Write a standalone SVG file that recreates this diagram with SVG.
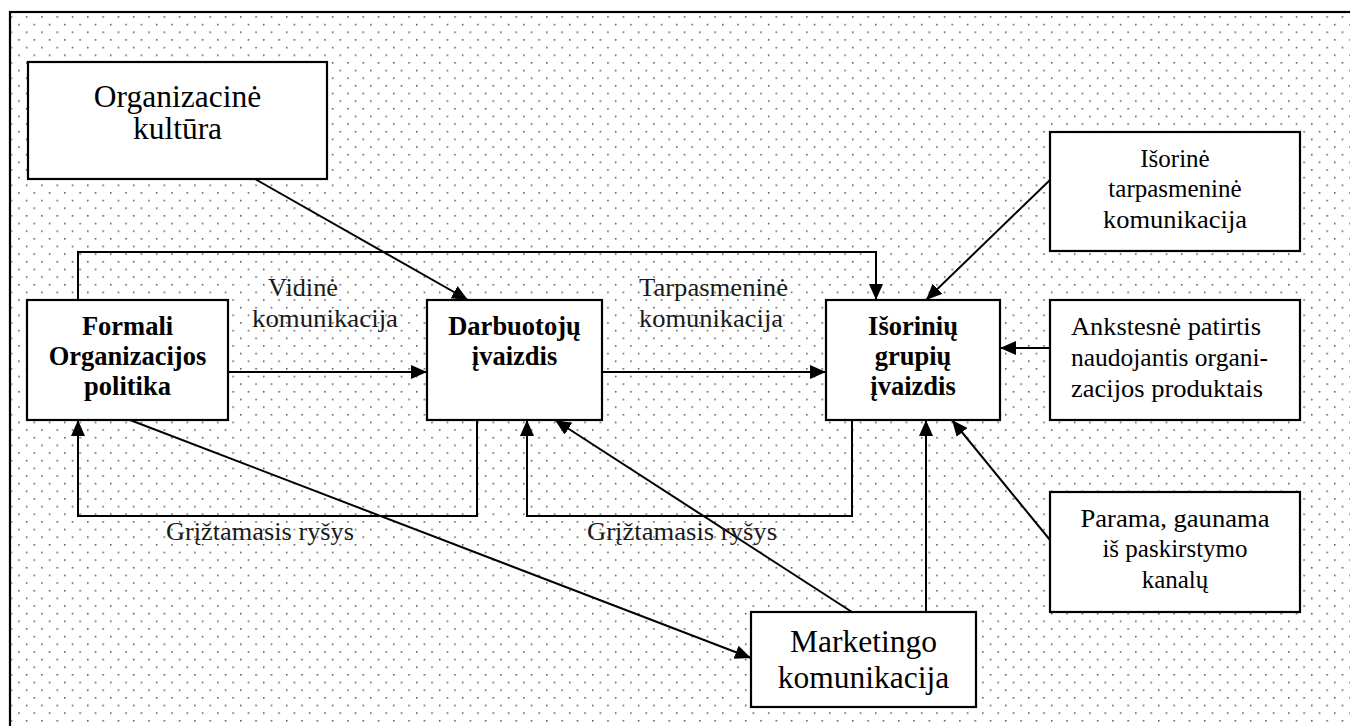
<svg xmlns="http://www.w3.org/2000/svg" width="1350" height="726" viewBox="0 0 1350 726">
<defs>
<pattern id="dots" patternUnits="userSpaceOnUse" x="18.2" y="605.2" width="15.3" height="15.3">
<circle cx="0.8" cy="0.8" r="0.8" fill="#333"/>
<circle cx="8.45" cy="8.45" r="0.8" fill="#333"/>
</pattern>
<marker id="arr" markerUnits="userSpaceOnUse" markerWidth="18" markerHeight="16" refX="16" refY="7" orient="auto">
<path d="M0,0 L16,7 L0,14 z" fill="#000"/>
</marker>
</defs>
<style>
.box{fill:#fff;stroke:#000;stroke-width:2.2}
.ln{fill:none;stroke:#000;stroke-width:2}
.b{font-weight:bold;font-size:26.5px;text-anchor:middle}
.n{font-size:25px}
.lab{font-size:25px;fill:#1a1a1a}
</style>
<rect x="10" y="12" width="1400" height="800" fill="#fff"/>
<rect x="10" y="12" width="1400" height="800" fill="url(#dots)" stroke="#000" stroke-width="2.2"/>

<g id="connectors">
<path class="ln" d="M78,300 V252 H876 V300" marker-end="url(#arr)"/>
<line class="ln" x1="228" y1="372" x2="427" y2="372" marker-end="url(#arr)"/>
<line class="ln" x1="602" y1="372" x2="826" y2="372" marker-end="url(#arr)"/>
<line class="ln" x1="255" y1="179" x2="468" y2="300" marker-end="url(#arr)"/>
<line class="ln" x1="1050" y1="180" x2="926" y2="300" marker-end="url(#arr)"/>
<line class="ln" x1="1050" y1="348" x2="1000" y2="348" marker-end="url(#arr)"/>
<path class="ln" d="M477,420 V516 H78 V420" marker-end="url(#arr)"/>
<path class="ln" d="M852,420 V516 H527 V420" marker-end="url(#arr)"/>
<line class="ln" x1="130" y1="420" x2="751" y2="658" marker-end="url(#arr)"/>
<line class="ln" x1="852" y1="612" x2="555" y2="420" marker-end="url(#arr)"/>
<line class="ln" x1="926" y1="612" x2="926" y2="420" marker-end="url(#arr)"/>
<line class="ln" x1="1050" y1="540" x2="952" y2="420" marker-end="url(#arr)"/>
<g font-family="Times New Roman, Tinos, Liberation Serif, Noto Serif, DejaVu Serif, serif">
<text class="lab" x="268" y="296" textLength="70" lengthAdjust="spacingAndGlyphs">Vidinė</text>
<text class="lab" x="252" y="327" textLength="146" lengthAdjust="spacingAndGlyphs">komunikacija</text>
<text class="lab" x="639" y="296" textLength="149" lengthAdjust="spacingAndGlyphs">Tarpasmeninė</text>
<text class="lab" x="639" y="327" textLength="144" lengthAdjust="spacingAndGlyphs">komunikacija</text>
<text class="lab" x="166" y="540" textLength="188" lengthAdjust="spacingAndGlyphs">Grįžtamasis ryšys</text>
<text class="lab" x="587" y="540" textLength="190" lengthAdjust="spacingAndGlyphs">Grįžtamasis ryšys</text>
</g>
</g>

<g font-family="Times New Roman, Tinos, Liberation Serif, Noto Serif, DejaVu Serif, serif">
<g id="org-kultura">
<rect class="box" x="28" y="62" width="299" height="117"/>
<text x="177.5" y="107" font-size="31.5" text-anchor="middle">Organizacinė</text>
<text x="177.5" y="139" font-size="31.5" text-anchor="middle">kultūra</text>
</g>

<g id="formali">
<rect class="box" x="27" y="300" width="201" height="120"/>
<text class="b" x="127.5" y="335">Formali</text>
<text class="b" x="127.5" y="365">Organizacijos</text>
<text class="b" x="127.5" y="395">politika</text>
</g>

<g id="darbuotoju">
<rect class="box" x="427" y="300" width="175" height="120"/>
<text class="b" x="514.5" y="335">Darbuotojų</text>
<text class="b" x="514.5" y="365">įvaizdis</text>
</g>

<g id="isoriniu">
<rect class="box" x="826" y="300" width="174" height="120"/>
<text class="b" x="913" y="335">Išorinių</text>
<text class="b" x="913" y="365">grupių</text>
<text class="b" x="913" y="395">įvaizdis</text>
</g>

<g id="isorine-komunikacija">
<rect class="box" x="1050" y="132" width="250" height="119"/>
<text class="n" x="1175" y="167" text-anchor="middle">Išorinė</text>
<text class="n" x="1175" y="197" text-anchor="middle">tarpasmeninė</text>
<text class="n" x="1175" y="228" text-anchor="middle" textLength="144" lengthAdjust="spacingAndGlyphs">komunikacija</text>
</g>

<g id="ankstesne">
<rect class="box" x="1050" y="300" width="250" height="120"/>
<text class="n" x="1071" y="335" textLength="190" lengthAdjust="spacingAndGlyphs">Ankstesnė patirtis</text>
<text class="n" x="1071" y="366" textLength="197" lengthAdjust="spacingAndGlyphs">naudojantis organi-</text>
<text class="n" x="1071" y="397" textLength="192" lengthAdjust="spacingAndGlyphs">zacijos produktais</text>
</g>

<g id="parama">
<rect class="box" x="1050" y="492" width="250" height="120"/>
<text class="n" x="1175" y="527" text-anchor="middle" textLength="189" lengthAdjust="spacingAndGlyphs">Parama, gaunama</text>
<text class="n" x="1175" y="557" text-anchor="middle">iš paskirstymo</text>
<text class="n" x="1175" y="588" text-anchor="middle">kanalų</text>
</g>

<g id="marketingo">
<rect class="box" x="751" y="612" width="225" height="95"/>
<text x="863.5" y="652" font-size="31.5" text-anchor="middle">Marketingo</text>
<text x="863.5" y="688" font-size="31.5" text-anchor="middle">komunikacija</text>
</g>
</g>
</svg>
